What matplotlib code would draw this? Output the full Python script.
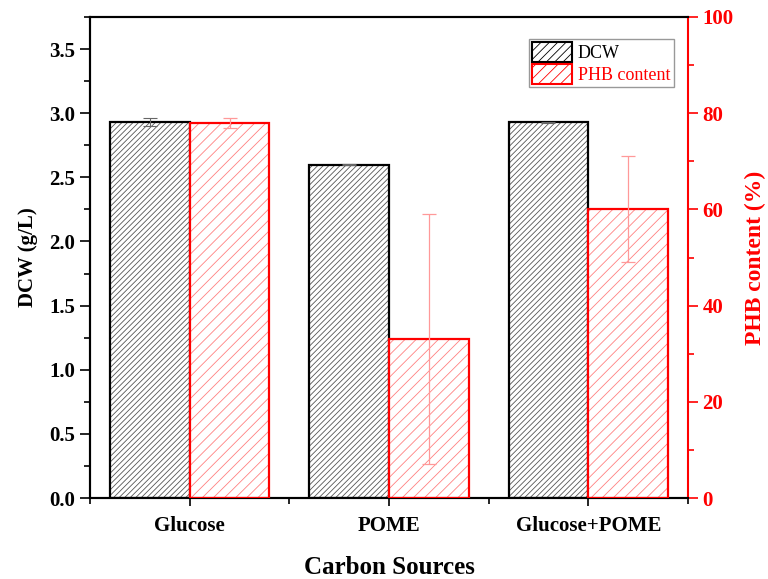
import matplotlib
matplotlib.use("Agg")
import matplotlib.pyplot as plt
import numpy as np
from matplotlib.ticker import MultipleLocator, FixedLocator, FormatStrFormatter
from matplotlib.patches import Patch

categories = ["Glucose", "POME", "Glucose+POME"]
dcw = [2.93, 2.60, 2.93]
dcw_err = [0.03, 0.005, 0.005]
phb = [78.0, 33.0, 60.0]
phb_err = [1.0, 26.0, 11.0]

plt.rcParams['font.family'] = ['Liberation Serif', 'DejaVu Serif']
plt.rcParams['hatch.linewidth'] = 0.6

fig = plt.figure(figsize=(7.68, 5.79), dpi=100)
ax = fig.add_axes([90/768, 81/579, 598/768, 481/579])
ax2 = ax.twinx()

x = np.arange(len(categories)) + 0.5
w = 0.4
red = '#ff0000'

ax.bar(x - w/2, dcw, w, facecolor='white', edgecolor='#555555', hatch='//////', linewidth=0, zorder=2)
ax.bar(x - w/2, dcw, w, facecolor='none', edgecolor='black', linewidth=1.6, zorder=3)
ax.errorbar(x - w/2, dcw, yerr=dcw_err, fmt='none', ecolor='#666666', elinewidth=0.8, capsize=5, capthick=0.8, zorder=4)

ax2.bar(x + w/2, phb, w, facecolor='white', edgecolor='#ff8080', hatch='///', linewidth=0, zorder=2)
ax2.bar(x + w/2, phb, w, facecolor='none', edgecolor=red, linewidth=1.6, zorder=3)
ax2.errorbar(x + w/2, phb, yerr=phb_err, fmt='none', ecolor='#ff9999', elinewidth=0.9, capsize=5, capthick=0.9, zorder=4)

ax.set_xlim(0, 3)
ax.set_ylim(0, 3.75)
ax2.set_ylim(0, 100)

ax.set_xticks(x)
ax.set_xticklabels(categories, fontsize=15, fontweight='bold')
ax.xaxis.set_minor_locator(FixedLocator([0, 1, 2, 3]))
ax.tick_params(axis='x', which='major', direction='out', length=6, width=1.2, pad=7)
ax.tick_params(axis='x', which='minor', direction='out', length=4, width=1.2)

ax.yaxis.set_major_locator(MultipleLocator(0.5))
ax.yaxis.set_minor_locator(MultipleLocator(0.25))
ax.yaxis.set_major_formatter(FormatStrFormatter('%.1f'))
ax.tick_params(axis='y', which='major', direction='out', length=7, width=1.2, labelsize=15)
ax.tick_params(axis='y', which='minor', direction='out', length=4, width=1.2)
for lbl in ax.get_yticklabels():
    lbl.set_fontweight('bold')

ax2.yaxis.set_major_locator(MultipleLocator(20))
ax2.yaxis.set_minor_locator(MultipleLocator(10))
ax2.tick_params(axis='y', which='major', direction='out', length=7, width=1.2, labelsize=15, colors=red)
ax2.tick_params(axis='y', which='minor', direction='out', length=4, width=1.2, colors=red)
for lbl in ax2.get_yticklabels():
    lbl.set_fontweight('bold')

for s in ['left', 'bottom', 'top']:
    ax.spines[s].set_linewidth(1.5)
    ax2.spines[s].set_linewidth(1.5)
ax2.spines['right'].set_color(red)
ax2.spines['right'].set_linewidth(1.5)
ax.spines['right'].set_visible(False)

ax.set_ylabel('DCW (g/L)', fontsize=15, fontweight='bold', labelpad=8)
ax2.set_ylabel('PHB content (%)', fontsize=17, fontweight='bold', color=red, labelpad=8)
ax.set_xlabel('Carbon Sources', fontsize=18, fontweight='bold', labelpad=14)

handles = [Patch(facecolor='white', edgecolor='black', hatch='////', linewidth=1.5, label='DCW'),
           Patch(facecolor='white', edgecolor=red, hatch='///', linewidth=1.5, label='PHB content')]
leg = ax2.legend(handles=handles, loc='upper right', bbox_to_anchor=(0.976, 0.955), fontsize=13,
                 fancybox=False, edgecolor='#999999', framealpha=1, handlelength=2.2, handleheight=1.3,
                 handletextpad=0.3, borderpad=0.2, labelspacing=0.1, borderaxespad=0)
leg.get_frame().set_linewidth(1.0)
leg.get_texts()[1].set_color(red)

fig.savefig('out.png', dpi=100)
